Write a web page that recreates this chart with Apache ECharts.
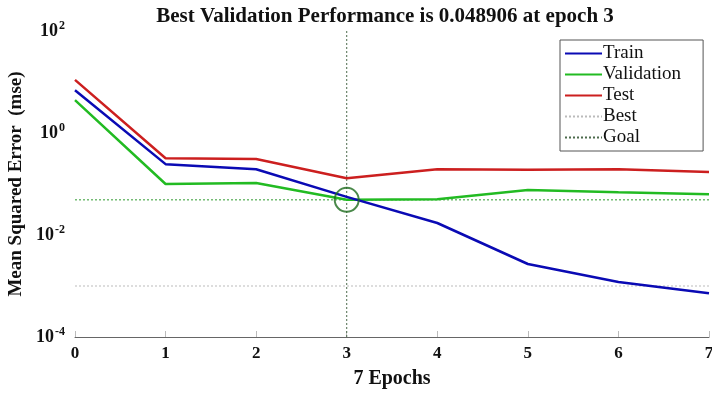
<!DOCTYPE html>
<html><head><meta charset="utf-8">
<script src="https://cdn.jsdelivr.net/npm/echarts@6/dist/echarts.min.js"></script>
<style>html,body{margin:0;padding:0;background:#fff}#c{width:712px;height:393px}</style>
</head><body><div id="c"></div>
<script>
const epochs = [0, 1, 2, 3, 4, 5, 6, 7];
const trainPerf = [6.9, 0.245, 0.195, 0.056, 0.0172, 0.0027, 0.0012, 0.00072];
const valPerf = [4.4, 0.1, 0.105, 0.048906, 0.05, 0.076, 0.069, 0.063];
const testPerf = [11, 0.32, 0.31, 0.13, 0.195, 0.19, 0.195, 0.172];
const bestEpoch = 3;
const bestPerf = 0.048906;
const goalPerf = 0.001;
const yMin = 1e-4, yMax = 1e2;
const titleText = 'Best Validation Performance is 0.048906 at epoch 3';
const xName = '7 Epochs';
const yName = 'Mean Squared Error  (mse)';

const serif = '"Liberation Serif", "DejaVu Serif", serif';
const pairs = a => a.map((v, i) => [epochs[i], v]);

const chart = echarts.init(document.getElementById('c'));
chart.setOption({
  animation: false,
  backgroundColor: '#fff',
  title: {
    text: titleText, left: 380, top: 1, textAlign: 'center',
    textStyle: {fontFamily: serif, fontWeight: 'bold', fontSize: 21, color: '#111'}
  },
  grid: {left: 75, right: 3, top: 31, bottom: 56, outerBoundsMode: 'none', containLabel: false},
  legend: {
    data: ['Train', 'Validation', 'Test', 'Best', 'Goal'],
    orient: 'vertical', left: 560, top: 40,
    itemWidth: 37, itemHeight: 14, itemGap: 2,
    padding: [4, 22, 4, 4],
    backgroundColor: '#fff', borderColor: '#555', borderWidth: 1,
    itemStyle: {opacity: 0},
    textStyle: {fontFamily: serif, fontSize: 19, lineHeight: 17, color: '#111', padding: [0, 0, 0, -4]}
  },
  xAxis: {
    type: 'value', min: 0, max: 7, interval: 1,
    name: xName, nameLocation: 'middle', nameGap: 32,
    nameTextStyle: {fontFamily: serif, fontWeight: 'bold', fontSize: 20, color: '#111'},
    axisLine: {show: true, lineStyle: {color: '#666', width: 1}},
    axisTick: {show: true, inside: true, length: 6, lineStyle: {color: '#bbb'}},
    axisLabel: {fontFamily: serif, fontWeight: 'bold', fontSize: 17, color: '#111', margin: 8},
    splitLine: {show: false}
  },
  yAxis: {
    type: 'log', logBase: 10, min: yMin, max: yMax,
    name: yName, nameLocation: 'middle', nameGap: 48,
    nameTextStyle: {fontFamily: serif, fontWeight: 'bold', fontSize: 19, color: '#111'},
    axisLine: {show: false}, axisTick: {show: false}, splitLine: {show: false},
    axisLabel: {
      margin: 10,
      formatter: v => {
        const e = Math.round(Math.log10(v));
        if (e % 2 !== 0) return '';
        return '{b|10}{s|' + e + '}';
      },
      rich: {
        b: {fontFamily: serif, fontWeight: 'bold', fontSize: 18, color: '#111'},
        s: {fontFamily: serif, fontWeight: 'bold', fontSize: 12, color: '#111', padding: [0, 0, 11, 1]}
      }
    }
  },
  series: [
    {name: 'Best', type: 'line', symbol: 'none', data: [[0, goalPerf], [7, goalPerf]],
     lineStyle: {color: '#bbbbbb', width: 1, type: [2, 2]}, itemStyle: {color: '#bbbbbb'}, z: 1},
    {name: 'Goal', type: 'line', symbol: 'none', data: [[bestEpoch, yMin], [bestEpoch, yMax]],
     lineStyle: {color: '#4d6b4d', width: 1, type: [2, 2]}, itemStyle: {color: '#4d6b4d'}, z: 1},
    {name: 'bestH', type: 'line', symbol: 'none', data: [[0, bestPerf], [7, bestPerf]],
     lineStyle: {color: '#2e9a2e', width: 1, type: [2, 2]}, z: 1},
    {name: 'Train', type: 'line', symbol: 'none', data: pairs(trainPerf),
     lineStyle: {color: '#0a0ab4', width: 2.5}, itemStyle: {color: '#0a0ab4'}, z: 3},
    {name: 'Validation', type: 'line', symbol: 'none', data: pairs(valPerf),
     lineStyle: {color: '#22bb22', width: 2.5}, itemStyle: {color: '#22bb22'}, z: 2},
    {name: 'Test', type: 'line', symbol: 'none', data: pairs(testPerf),
     lineStyle: {color: '#cc1f1f', width: 2.5}, itemStyle: {color: '#cc1f1f'}, z: 2},
    {name: 'bestCircle', type: 'scatter', data: [[bestEpoch, bestPerf]], symbol: 'circle', symbolSize: 24,
     itemStyle: {color: 'rgba(0,0,0,0)', borderColor: '#1d6b1d', borderWidth: 2}, z: 5, silent: true}
  ]
});
</script></body></html>
